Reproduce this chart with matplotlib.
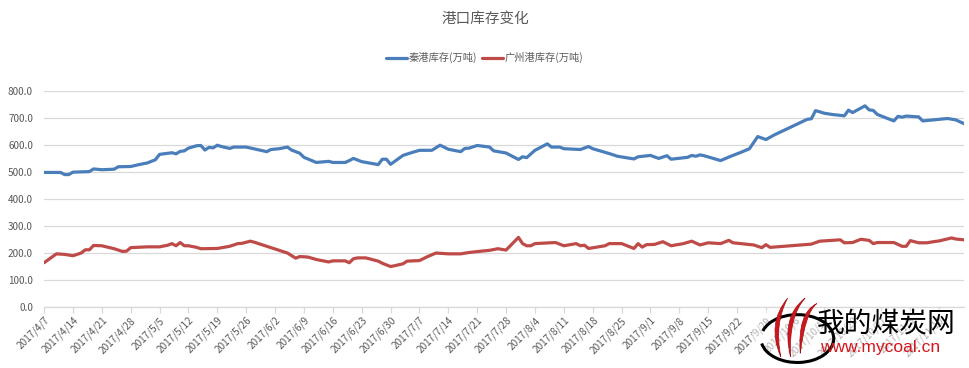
import matplotlib
matplotlib.use("Agg")
import matplotlib.pyplot as plt
from matplotlib.patches import Arc, Rectangle, PathPatch
from matplotlib.path import Path
import pandas as pd

plt.rcParams['font.family'] = ['Noto Sans CJK SC', 'DejaVu Sans']

title = "港口库存变化"
series_names = ["秦港库存(万吨)", "广州港库存(万吨)"]

qin_dates = ["2017-04-07", "2017-04-11", "2017-04-12", "2017-04-13", "2017-04-14", "2017-04-18", "2017-04-19", "2017-04-21", "2017-04-24", "2017-04-25",
             "2017-04-28", "2017-04-30", "2017-05-02", "2017-05-04", "2017-05-05", "2017-05-08", "2017-05-09", "2017-05-10", "2017-05-11", "2017-05-12",
             "2017-05-14", "2017-05-15", "2017-05-16", "2017-05-17", "2017-05-18", "2017-05-19", "2017-05-20", "2017-05-22", "2017-05-23", "2017-05-26",
             "2017-05-31", "2017-06-01", "2017-06-03", "2017-06-05", "2017-06-06", "2017-06-08", "2017-06-09", "2017-06-12", "2017-06-15", "2017-06-16",
             "2017-06-19", "2017-06-20", "2017-06-21", "2017-06-23", "2017-06-27", "2017-06-28", "2017-06-29", "2017-06-30", "2017-07-03", "2017-07-05",
             "2017-07-07", "2017-07-10", "2017-07-12", "2017-07-14", "2017-07-17", "2017-07-18", "2017-07-19", "2017-07-21", "2017-07-24", "2017-07-25",
             "2017-07-28", "2017-07-31", "2017-08-01", "2017-08-02", "2017-08-04", "2017-08-07", "2017-08-08", "2017-08-10", "2017-08-11", "2017-08-15",
             "2017-08-17", "2017-08-18", "2017-08-22", "2017-08-24", "2017-08-28", "2017-08-29", "2017-09-01", "2017-09-03", "2017-09-05", "2017-09-06",
             "2017-09-10", "2017-09-11", "2017-09-12", "2017-09-13", "2017-09-14", "2017-09-18", "2017-09-20", "2017-09-23", "2017-09-25", "2017-09-27",
             "2017-09-29", "2017-10-01", "2017-10-09", "2017-10-10", "2017-10-11", "2017-10-12", "2017-10-13", "2017-10-15", "2017-10-18", "2017-10-19",
             "2017-10-20", "2017-10-23", "2017-10-24", "2017-10-25", "2017-10-26", "2017-10-30", "2017-10-31", "2017-11-01", "2017-11-02", "2017-11-05",
             "2017-11-06", "2017-11-08", "2017-11-12", "2017-11-14", "2017-11-16"]
qin_values = [498, 498, 490, 490, 499, 501, 511, 508, 510, 519,
              520, 527, 533, 545, 565, 571, 567, 576, 578, 588,
              597, 598, 581, 591, 589, 599, 594, 587, 592, 592,
              575, 583, 586, 592, 581, 569, 554, 535, 539, 535,
              535, 542, 550, 538, 527, 547, 547, 528, 561, 571,
              580, 580, 599, 584, 575, 587, 588, 598, 592, 578,
              570, 546, 556, 553, 580, 604, 592, 592, 586, 583,
              594, 586, 568, 558, 548, 556, 561, 550, 560, 547,
              554, 561, 558, 563, 560, 542, 555, 573, 586, 631,
              620, 637, 695, 697, 727, 723, 718, 713, 708, 729,
              720, 745, 730, 728, 713, 689, 706, 703, 707, 704,
              689, 692, 698, 693, 679]

gz_dates = ["2017-04-07", "2017-04-10", "2017-04-12", "2017-04-14", "2017-04-16", "2017-04-17", "2017-04-18", "2017-04-19", "2017-04-21", "2017-04-24",
            "2017-04-26", "2017-04-27", "2017-04-28", "2017-05-02", "2017-05-05", "2017-05-07", "2017-05-08", "2017-05-09", "2017-05-10", "2017-05-11",
            "2017-05-12", "2017-05-14", "2017-05-15", "2017-05-19", "2017-05-22", "2017-05-24", "2017-05-25", "2017-05-27", "2017-05-28", "2017-06-01",
            "2017-06-03", "2017-06-05", "2017-06-07", "2017-06-08", "2017-06-10", "2017-06-12", "2017-06-15", "2017-06-16", "2017-06-19", "2017-06-20",
            "2017-06-21", "2017-06-22", "2017-06-24", "2017-06-27", "2017-06-28", "2017-06-30", "2017-07-01", "2017-07-03", "2017-07-04", "2017-07-07",
            "2017-07-09", "2017-07-11", "2017-07-14", "2017-07-17", "2017-07-19", "2017-07-22", "2017-07-24", "2017-07-26", "2017-07-28", "2017-07-31",
            "2017-08-01", "2017-08-02", "2017-08-03", "2017-08-04", "2017-08-09", "2017-08-11", "2017-08-14", "2017-08-15", "2017-08-16", "2017-08-17",
            "2017-08-21", "2017-08-22", "2017-08-25", "2017-08-28", "2017-08-29", "2017-08-30", "2017-08-31", "2017-09-02", "2017-09-04", "2017-09-06",
            "2017-09-09", "2017-09-11", "2017-09-13", "2017-09-15", "2017-09-18", "2017-09-20", "2017-09-21", "2017-09-26", "2017-09-28", "2017-09-29",
            "2017-09-30", "2017-10-10", "2017-10-12", "2017-10-17", "2017-10-18", "2017-10-20", "2017-10-22", "2017-10-24", "2017-10-25", "2017-10-26",
            "2017-10-30", "2017-11-01", "2017-11-02", "2017-11-03", "2017-11-05", "2017-11-07", "2017-11-09", "2017-11-10", "2017-11-13", "2017-11-14",
            "2017-11-16"]
gz_values = [163, 196, 194, 189, 199, 211, 211, 227, 226, 215,
             205, 206, 219, 222, 222, 228, 234, 226, 238, 226,
             226, 220, 215, 216, 224, 234, 235, 243, 239, 219,
             209, 199, 180, 186, 184, 175, 166, 170, 170, 163,
             178, 181, 181, 169, 161, 149, 152, 159, 169, 171,
             186, 199, 196, 196, 201, 206, 209, 215, 210, 257,
             234, 226, 226, 234, 238, 226, 234, 226, 228, 216,
             226, 234, 234, 216, 234, 221, 230, 231, 241, 226,
             234, 243, 229, 237, 234, 246, 237, 229, 219, 230,
             220, 232, 243, 248, 237, 238, 250, 246, 234, 238,
             238, 224, 224, 245, 237, 237, 242, 244, 255, 251,
             248]

tick_start = "2017-04-07"
tick_end = "2017-11-16"
y_ticks = [0, 100, 200, 300, 400, 500, 600, 700, 800]

BLUE = "#4a7ebb"
RED = "#be4b48"
GRAY = "#595959"

fig = plt.figure(figsize=(9.70, 3.68), dpi=100)
ax = fig.add_axes([0.0454, 0.1666, 0.9484, 0.5861])

qd = pd.to_datetime(qin_dates)
gd = pd.to_datetime(gz_dates)
l1, = ax.plot(qd, qin_values, color=BLUE, lw=2.3, solid_joinstyle='round', solid_capstyle='round', label=series_names[0], zorder=3)
l2, = ax.plot(gd, gz_values, color=RED, lw=2.3, solid_joinstyle='round', solid_capstyle='round', label=series_names[1], zorder=3)

ticks = pd.date_range(tick_start, tick_end, freq="7D")
ax.set_xticks(ticks)
ax.set_xticklabels([f"{d.year}/{d.month}/{d.day}" for d in ticks], rotation=45, ha='right',
                   rotation_mode='anchor', fontsize=7.2, color=GRAY)
ax.set_xlim(pd.Timestamp(tick_start), pd.Timestamp(tick_end))
ax.set_ylim(0, 800)
ax.set_yticks(y_ticks)
ax.set_yticklabels([f"{v:.1f}" for v in y_ticks], fontsize=7.2, color=GRAY)

ax.grid(axis='y', color='#d9d9d9', lw=0.9)
ax.set_axisbelow(True)
for s in ['top', 'right', 'left']:
    ax.spines[s].set_visible(False)
ax.spines['bottom'].set_color('#d9d9d9')
ax.spines['bottom'].set_linewidth(0.9)
ax.tick_params(axis='y', length=0, pad=8)
ax.tick_params(axis='x', length=4, color='#d9d9d9', width=0.9, pad=2)

fig.text(0.5, 0.95, title, ha='center', va='center', fontsize=10.5, color=GRAY)
fig.legend(handles=[l1, l2], labels=series_names, loc='center', bbox_to_anchor=(0.5, 0.843),
           ncol=2, frameon=False, fontsize=7.4, handlelength=2.0, handletextpad=0.2,
           columnspacing=0.5, labelcolor=GRAY)

# watermark (semi-transparent logo area)
fig.patches.append(Rectangle((0.775, 0.0), 0.22, 0.155, transform=fig.transFigure,
                             facecolor='white', alpha=0.55, edgecolor='none', zorder=5))
fig.patches.append(Arc((0.822, 0.08), 0.075, 0.13, theta1=200, theta2=150,
                       transform=fig.transFigure, color='black', lw=2.2, zorder=6))
flame_specs = [((0.805, 0.03), (0.790, 0.12), (0.812, 0.19)),
               ((0.815, 0.03), (0.805, 0.14), (0.830, 0.19)),
               ((0.825, 0.04), (0.822, 0.15), (0.842, 0.175))]
for p0, p1, p2 in flame_specs:
    path = Path([p0, p1, p2, (p1[0] + 0.008, p1[1]), p0],
                [Path.MOVETO, Path.CURVE3, Path.CURVE3, Path.CURVE3, Path.CURVE3])
    fig.patches.append(PathPatch(path, transform=fig.transFigure, facecolor='#d0161d',
                                 edgecolor='#a00f14', lw=0.5, zorder=7))
fig.text(0.842, 0.122, "我的煤炭网", ha='left', va='center', fontsize=20, color='black', zorder=8)
fig.text(0.845, 0.055, "www.mycoal.cn", ha='left', va='center', fontsize=12.5,
         color='#d6141b', family=['Liberation Sans', 'DejaVu Sans'], zorder=8)

fig.savefig("out.png", dpi=100)
